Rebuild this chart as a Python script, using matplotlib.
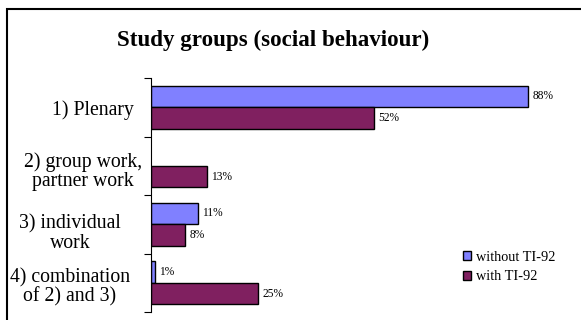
import matplotlib
matplotlib.use("Agg")
import matplotlib.pyplot as plt
from matplotlib.patches import Rectangle, Patch
from matplotlib.transforms import blended_transform_factory
import numpy as np

# ── data ─────────────────────────────────────────────────────────────────────
categories = ["1) Plenary", "2) group work,\npartner work",
              "3) individual\nwork", "4) combination\nof 2) and 3)"]
without_ti92 = [88, 0, 11, 1]
with_ti92 = [52, 13, 8, 25]
series_names = ["without TI-92", "with TI-92"]
title = "Study groups (social behaviour)"

COL_WITHOUT = "#8080FF"
COL_WITH = "#802060"

# label box centres (figure px) and vertical nudge (category units), as in the Excel layout
label_cx = [92.5, 83, 70, 70]
label_dy = [0.05, 0.1, 0.16, 0.08]

plt.rcParams["font.family"] = ["Liberation Serif", "DejaVu Serif"]

W, H = 581, 320
fig = plt.figure(figsize=(W / 100, H / 100), dpi=100)
fig.patch.set_facecolor("white")

# outer frame (only left and top edges are visible in the crop)
fig.patches.append(Rectangle((7 / W, -0.2), 1.2, 1 - 9 / H + 0.2,
                             transform=fig.transFigure, fill=False,
                             edgecolor="black", linewidth=1.5))

ax = fig.add_axes([151 / W, 1 - 312 / H, 428.4 / W, 234 / H])

y = np.arange(len(categories))
h = 0.37

for vals, off, col in [(without_ti92, -h / 2, COL_WITHOUT),
                       (with_ti92, h / 2, COL_WITH)]:
    edges = ["black" if v > 0 else "none" for v in vals]
    ax.barh(y + off, vals, height=h, color=col, edgecolor=edges, linewidth=1.0)
    for yi, v in zip(y, vals):
        if v > 0:
            ax.annotate(f"{v}%", (v, yi + off), xytext=(3, 0),
                        textcoords="offset points", va="center", ha="left",
                        fontsize=8.3)

ax.set_xlim(0, 100)
ax.set_ylim(len(categories) - 0.5, -0.5)

for s in ["top", "right", "bottom"]:
    ax.spines[s].set_visible(False)
ax.spines["left"].set_linewidth(0.8)
ax.set_xticks([])

ax.set_yticks(np.arange(-0.5, len(categories)), labels=[""] * (len(categories) + 1))
ax.tick_params(axis="y", which="major", length=5, width=0.8, direction="out")

# category labels, centred multi-line like Excel
trans = blended_transform_factory(fig.transFigure, ax.transData)
for yi, lab, cx, dy in zip(y, categories, label_cx, label_dy):
    ax.text(cx / W, yi + dy, lab, transform=trans, ha="center", va="center",
            multialignment="center", linespacing=1.03, fontsize=14.2)

fig.text(273 / W, 1 - 40 / H, title, ha="center", va="center",
         fontsize=16.6, fontweight="bold")

handles = [Patch(facecolor=COL_WITHOUT, edgecolor="black", linewidth=1.0),
           Patch(facecolor=COL_WITH, edgecolor="black", linewidth=1.0)]
fig.legend(handles, series_names, loc="center left",
           bbox_to_anchor=(463 / W, 1 - 267 / H), frameon=False,
           fontsize=10.3, handlelength=0.56, handleheight=0.56,
           handletextpad=0.35, labelspacing=0.47, borderpad=0,
           borderaxespad=0)

fig.savefig("out.png", dpi=100)
